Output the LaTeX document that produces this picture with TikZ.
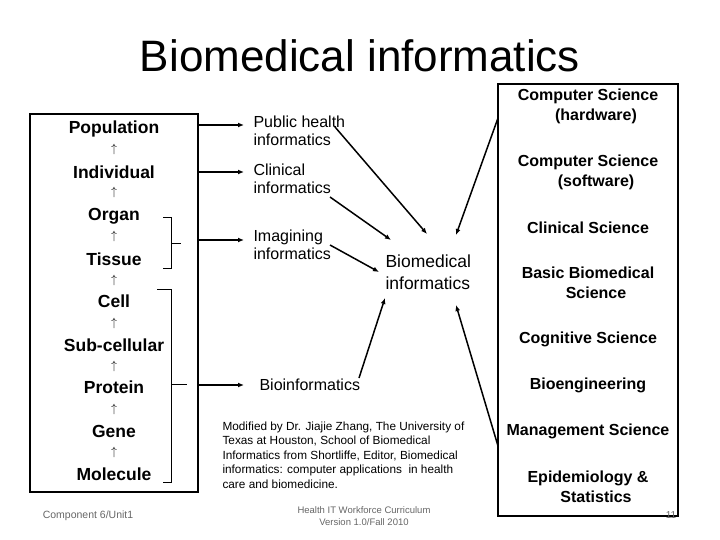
\documentclass[tikz,border=0pt]{standalone}
\usepackage{fontspec}
\setmainfont{Liberation Sans}
\usetikzlibrary{arrows.meta}
\begin{document}
\begin{tikzpicture}[x=1pt,y=-1pt,
 lv/.style={font=\fontsize{17.5}{17.5}\selectfont\bfseries,anchor=center},
 rt/.style={font=\fontsize{16}{20}\selectfont\bfseries,align=center,anchor=center},
 inf/.style={font=\fontsize{16}{18.5}\selectfont,align=left,anchor=west},
 up/.style={font=\fontsize{12}{12}\selectfont,anchor=center},
 ar/.style={line width=1.5pt,-{Latex[length=6pt,width=5pt]}},
 box/.style={draw,line width=1.2pt}]
\useasboundingbox (0,0) rectangle (720,540);
\node[font=\fontsize{44}{44}\selectfont] (title) at (360,56) {Biomedical informatics};
\draw[box] (30,114) rectangle (198,492);
\foreach \n/\t/\y in {p/Population/129,i/Individual/172,o/Organ/216,t/Tissue/259,c/Cell/301,s/Sub-cellular/345,pr/Protein/387,g/Gene/431,m/Molecule/474}
  \node[lv] (\n) at (114,\y) {\t};
\foreach \y in {150,193,237,280,323,366,409,452} \node[up] at (114,\y) {$\uparrow$};
\draw[thick] (163,217) -- (171,217) -- (171,268) -- (163,268) (171,243) -- (181,243);
\draw[thick] (157,289) -- (171,289) -- (171,482) -- (163,482) (171,384) -- (187,384);
\node[inf] (ph) at (250,131) {Public health\\informatics};
\node[inf] (ci) at (250,179) {Clinical\\informatics};
\node[inf] (im) at (250,245) {Imagining\\informatics};
\node[inf] (bi) at (256,385) {Bioinformatics};
\coordinate (a1) at (198,125); \coordinate (b1) at (244,125);
\coordinate (a2) at (198,172); \coordinate (b2) at (244,172);
\coordinate (a3) at (198,240); \coordinate (b3) at (244,240);
\coordinate (a4) at (198,385); \coordinate (b4) at (244,385);
\foreach \k in {1,2,3,4} \draw[ar] (a\k) -- (b\k);
\node[font=\fontsize{17.5}{22}\selectfont,align=left,anchor=west] (bm) at (382,272) {Biomedical\\informatics};
\draw[box] (498,84) rectangle (678,516);
\node[rt] (cs1) at (588,106) {Computer Science\\ \quad(hardware)};
\node[rt] (cs2) at (588,172) {Computer Science\\ \quad(software)};
\node[rt] at (588,228) {Clinical Science};
\node[rt] at (588,283) {Basic Biomedical\\ \quad Science};
\node[rt] at (588,339) {Cognitive Science};
\node[rt] at (588,385) {Bioengineering};
\node[rt] at (588,431) {Management Science};
\node[rt] at (588,487) {Epidemiology \&\\ \quad Statistics};
\coordinate (r1) at (498,118); \coordinate (r2) at (498,446);
\draw[ar] (335,127) -- (427,234);
\draw[ar] (330,197) -- (391,240);
\draw[ar] (330,245) -- (379,272);
\draw[ar] (359,378) -- (385,298);
\draw[ar] (r1) -- (456,235);
\draw[ar] (r2) -- (456,305);
\node[font=\fontsize{11.8}{14.5}\selectfont,align=left,anchor=north west] at (219,418) {Modified by Dr. Jiajie Zhang, The University of\\Texas at Houston, School of Biomedical\\Informatics from Shortliffe, Editor, Biomedical\\informatics: computer applications\ \ in health\\care and biomedicine.};
\node[font=\fontsize{10.5}{12}\selectfont,text=gray!80!black] at (88,516) {Component 6/Unit1};
\node[font=\fontsize{9.5}{12.5}\selectfont,text=gray!80!black,align=center] at (364,516) {Health IT Workforce Curriculum\\Version 1.0/Fall 2010};
\node[font=\fontsize{10}{10}\selectfont,text=gray!80!black] at (671,515) {11};
\end{tikzpicture}
\end{document}
